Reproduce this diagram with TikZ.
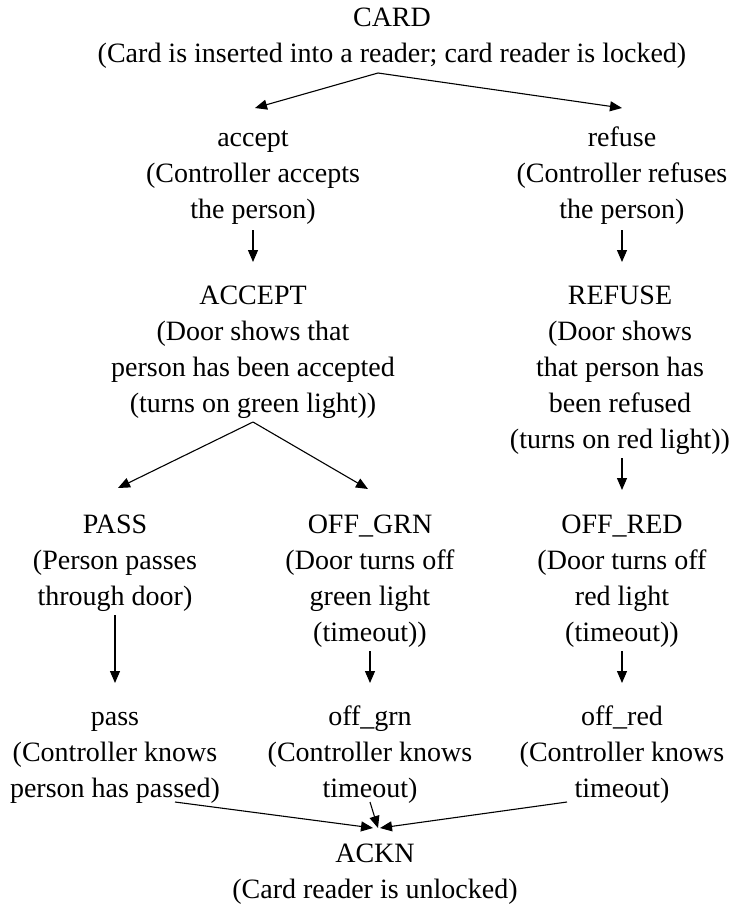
\documentclass[tikz,border=0pt]{standalone}
\usepackage{fontspec}
\setmainfont{Liberation Serif}
\usetikzlibrary{arrows.meta}
% full-height strut so every node starts and ends on a whole text line
\newcommand{\lnstrut}{\rule[-9pt]{0pt}{36pt}}
\begin{document}
\begin{tikzpicture}[x=1pt,y=-1pt,
  state/.style={anchor=north, align=center, inner sep=0pt, outer sep=0pt,
    font=\fontsize{28}{36}\selectfont},
  arr/.style={line width=1.1pt, -{Triangle[length=12pt,width=10pt]}}]
\useasboundingbox (0,0) rectangle (731,906);

% states and messages
\node[state] (card)    at (392,-1)  {\lnstrut CARD\\(Card is inserted into a reader; card reader is locked)\lnstrut};
\node[state] (accept)  at (253,119) {\lnstrut accept\\(Controller accepts\\the person)\lnstrut};
\node[state] (refuse)  at (622,119) {\lnstrut refuse\\(Controller refuses\\the person)\lnstrut};
\node[state] (ACCEPT)  at (253,277) {\lnstrut ACCEPT\\(Door shows that\\person has been accepted\\(turns on green light))\lnstrut};
\node[state] (REFUSE)  at (620,277) {\lnstrut REFUSE\\(Door shows\\that person has\\been refused\\(turns on red light))\lnstrut};
\node[state] (PASS)    at (115,506) {\lnstrut PASS\\(Person passes\\through door)\lnstrut};
\node[state] (OFFGRN)  at (370,506) {\lnstrut OFF\_GRN\\(Door turns off\\green light\\(timeout))\lnstrut};
\node[state] (OFFRED)  at (622,506) {\lnstrut OFF\_RED\\(Door turns off\\red light\\(timeout))\lnstrut};
\node[state] (pass)    at (115,698) {\lnstrut pass\\(Controller knows\\person has passed)\lnstrut};
\node[state] (offgrn)  at (370,698) {\lnstrut off\_grn\\(Controller knows\\timeout)\lnstrut};
\node[state] (offred)  at (622,698) {\lnstrut off\_red\\(Controller knows\\timeout)\lnstrut};
\node[state] (ACKN)    at (375,835) {\lnstrut ACKN\\(Card reader is unlocked)\lnstrut};

% transitions
\draw[arr] ([xshift=-14pt,yshift=-2pt]card.south) -- ([xshift=2pt,yshift=11pt]accept.north);
\draw[arr] ([xshift=-14pt,yshift=-2pt]card.south) -- ([xshift=0pt,yshift=11pt]refuse.north);
\draw[arr] ([yshift=-3pt]accept.south) -- ([yshift=15pt]ACCEPT.north);
\draw[arr] ([yshift=-3pt]refuse.south) -- ([xshift=2pt,yshift=15pt]REFUSE.north);
\draw[arr] ([yshift=-1pt]ACCEPT.south) -- ([xshift=3pt,yshift=18pt]PASS.north);
\draw[arr] ([yshift=-1pt]ACCEPT.south) -- ([xshift=-2pt,yshift=17pt]OFFGRN.north);
\draw[arr] ([xshift=2pt,yshift=-1pt]REFUSE.south) -- ([yshift=16pt]OFFRED.north);
\draw[arr] ([yshift=-1pt]PASS.south) -- ([yshift=15pt]pass.north);
\draw[arr] ([yshift=-1pt]OFFGRN.south) -- ([yshift=15pt]offgrn.north);
\draw[arr] ([yshift=-1pt]OFFRED.south) -- ([yshift=15pt]offred.north);
\draw[arr] ([xshift=60pt,yshift=4pt]pass.south) -- ([xshift=-2pt,yshift=7pt]ACKN.north);
\draw[arr] ([yshift=4pt]offgrn.south) -- ([xshift=3pt,yshift=7pt]ACKN.north);
\draw[arr] ([xshift=-55pt,yshift=4pt]offred.south) -- ([xshift=5pt,yshift=7pt]ACKN.north);
\end{tikzpicture}
\end{document}
